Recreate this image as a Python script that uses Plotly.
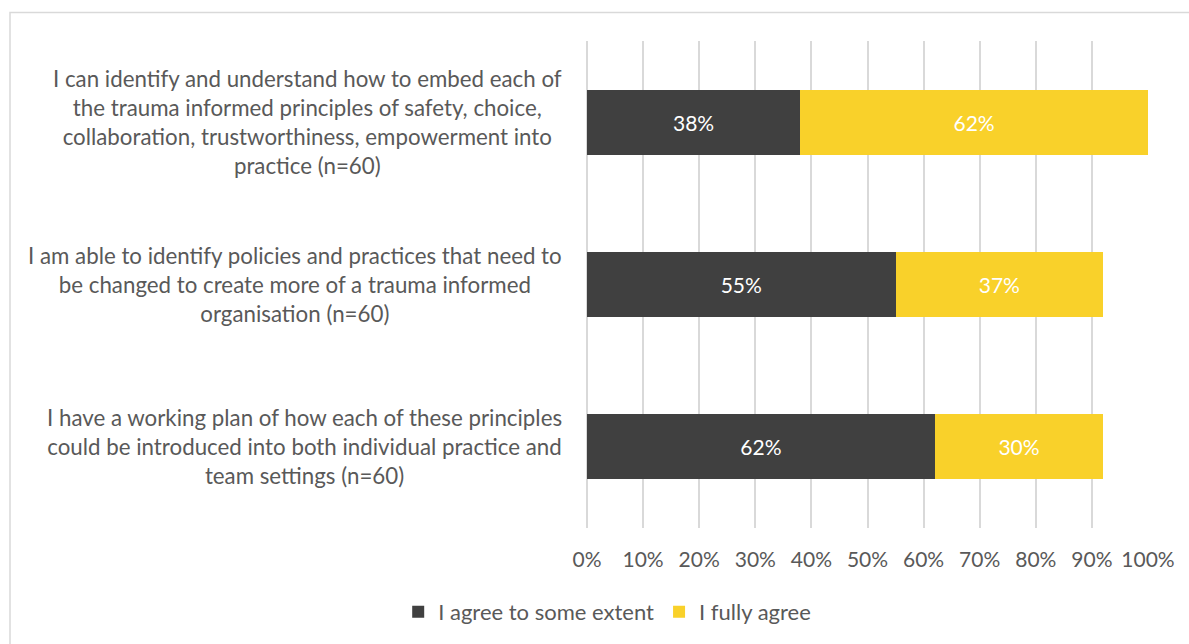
import plotly.graph_objects as go

# Survey statements (top to bottom) and response shares
statements = [
    "I can identify and understand how to embed each of<br>the trauma informed principles of safety, choice,<br>collaboration, trustworthiness, empowerment into<br>practice (n=60)",
    "I am able to identify policies and practices that need to<br>be changed to create more of a trauma informed<br>organisation (n=60)",
    "I have a working plan of how each of these principles<br>could be introduced into both individual practice and<br>team settings (n=60)",
]
some_extent = [38, 55, 62]
fully_agree = [62, 37, 30]
series_names = ["I agree to some extent", "I fully agree"]
tick_values = [0, 10, 20, 30, 40, 50, 60, 70, 80, 90, 100]
tick_labels = [f"{v}%" for v in tick_values]

FONT = "Lato"
TEXT_COLOR = "#595959"
DARK = "#404040"
YELLOW = "#F9D12A"

cats = list(range(len(statements)))

fig = go.Figure()
for name, vals, color in [
    (series_names[0], some_extent, DARK),
    (series_names[1], fully_agree, YELLOW),
]:
    fig.add_trace(go.Bar(
        name=name,
        y=cats,
        x=vals,
        orientation="h",
        marker=dict(color=color, line=dict(width=0)),
        width=0.4,
        text=[f"{v}%" for v in vals],
        textposition="inside",
        insidetextanchor="middle",
        textangle=0,
        textfont=dict(family=FONT, size=21, color="white"),
        hoverinfo="skip",
    ))

# Category labels as centred multi-line text, right-aligned to the axis
for i, label in enumerate(statements):
    fig.add_annotation(
        x=-0.041, xref="paper", y=i, yref="y",
        text=label, showarrow=False,
        xanchor="right", yanchor="middle", align="center",
        font=dict(family=FONT, size=22.3, color=TEXT_COLOR),
    )

# Light frame around the chart area
fig.add_shape(
    type="rect", xref="paper", yref="paper",
    x0=-577 / 561, x1=640 / 561, y0=-0.5, y1=(529 - 12.5) / 488,
    line=dict(color="#d9d9d9", width=1.5), fillcolor="rgba(0,0,0,0)",
    layer="below",
)

fig.update_layout(
    width=1189, height=644,
    margin=dict(l=587, r=41, t=41, b=115),
    barmode="stack",
    paper_bgcolor="white",
    plot_bgcolor="white",
    font=dict(family=FONT, size=21, color=TEXT_COLOR),
    showlegend=True,
    legend=dict(
        orientation="h", x=0.036, xanchor="center",
        y=-0.17, yanchor="middle",
        font=dict(family=FONT, size=22, color=TEXT_COLOR),
        itemwidth=30, traceorder="normal",
    ),
    xaxis=dict(
        range=[0, 100], tickvals=tick_values, ticktext=tick_labels,
        showgrid=True, gridcolor="#d9d9d9", gridwidth=1.5,
        zeroline=True, zerolinecolor="#d9d9d9", zerolinewidth=1.5,
        showline=False, ticks="", ticklabelstandoff=17,
        tickfont=dict(family=FONT, size=21, color=TEXT_COLOR),
        fixedrange=True,
    ),
    yaxis=dict(
        range=[2.5, -0.5], showticklabels=False, showgrid=False,
        zeroline=False, showline=False, ticks="", fixedrange=True,
    ),
)

fig.write_html("out.html")
